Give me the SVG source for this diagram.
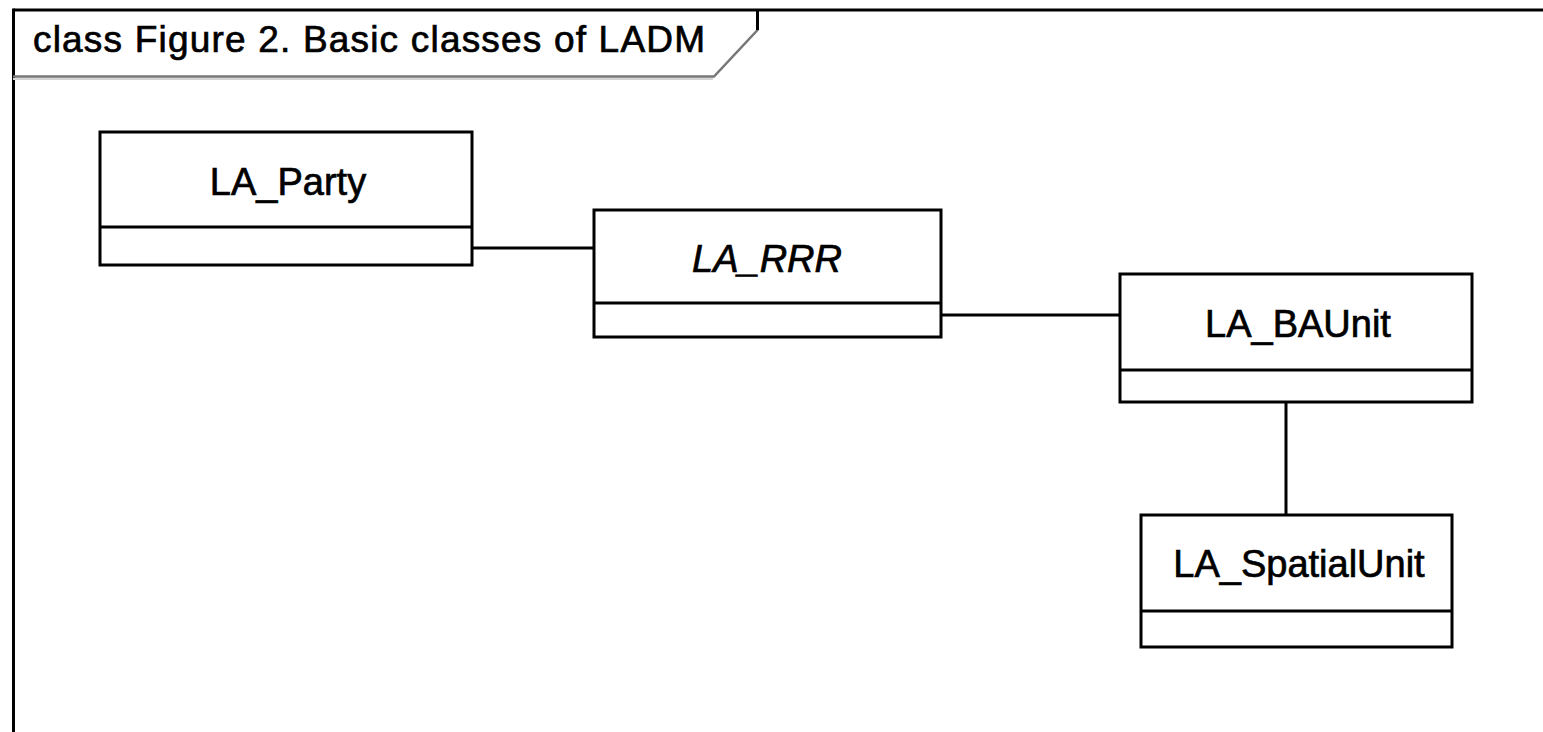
<svg xmlns="http://www.w3.org/2000/svg" width="1543" height="732" viewBox="0 0 1543 732">
<style>
.box{fill:#fff;stroke:#000;stroke-width:3}
.div{stroke:#000;stroke-width:3}
.lbl{font-family:"Liberation Sans",Arial,sans-serif;font-size:38px;fill:#000;stroke:#000;stroke-width:0.7;text-anchor:middle}
.conn{stroke:#000;stroke-width:3;fill:none}
</style>
<rect x="0" y="0" width="1543" height="732" fill="#fff"/>
<g id="frame">
<line x1="13.5" y1="10" x2="1543" y2="10" stroke="#000" stroke-width="3"/>
<line x1="13.5" y1="8.5" x2="13.5" y2="732" stroke="#000" stroke-width="3"/>
<polyline points="757.5,10 757.5,30 714,76.5 13,76.5" fill="none" stroke="#777" stroke-width="2.5"/>
<line x1="757.5" y1="10" x2="757.5" y2="30" stroke="#000" stroke-width="3"/>
<line x1="13" y1="79" x2="713" y2="79" stroke="#d4d4d4" stroke-width="2"/>
<text x="33" y="52" font-family="'Liberation Sans',Arial,sans-serif" font-size="37" fill="#000" stroke="#000" stroke-width="0.7" textLength="672" lengthAdjust="spacing">class Figure 2. Basic classes of LADM</text>
</g>
<g id="connectors">
<line class="conn" x1="472" y1="248" x2="594" y2="248"/>
<line class="conn" x1="941" y1="315" x2="1120" y2="315"/>
<line class="conn" x1="1286" y1="402" x2="1286" y2="515"/>
</g>
<g id="LA_Party">
<rect class="box" x="100" y="132" width="372" height="133"/>
<line class="div" x1="100" y1="227" x2="472" y2="227"/>
<text class="lbl" x="288" y="195">LA_Party</text>
</g>
<g id="LA_RRR">
<rect class="box" x="594" y="210" width="347" height="127"/>
<line class="div" x1="594" y1="303" x2="941" y2="303"/>
<text class="lbl" x="767" y="272" font-style="italic">LA_RRR</text>
</g>
<g id="LA_BAUnit">
<rect class="box" x="1120" y="274" width="352" height="128"/>
<line class="div" x1="1120" y1="370" x2="1472" y2="370"/>
<text class="lbl" x="1298" y="337">LA_BAUnit</text>
</g>
<g id="LA_SpatialUnit">
<rect class="box" x="1141" y="515" width="311" height="132"/>
<line class="div" x1="1141" y1="611" x2="1452" y2="611"/>
<text class="lbl" x="1299" y="577">LA_SpatialUnit</text>
</g>
</svg>
